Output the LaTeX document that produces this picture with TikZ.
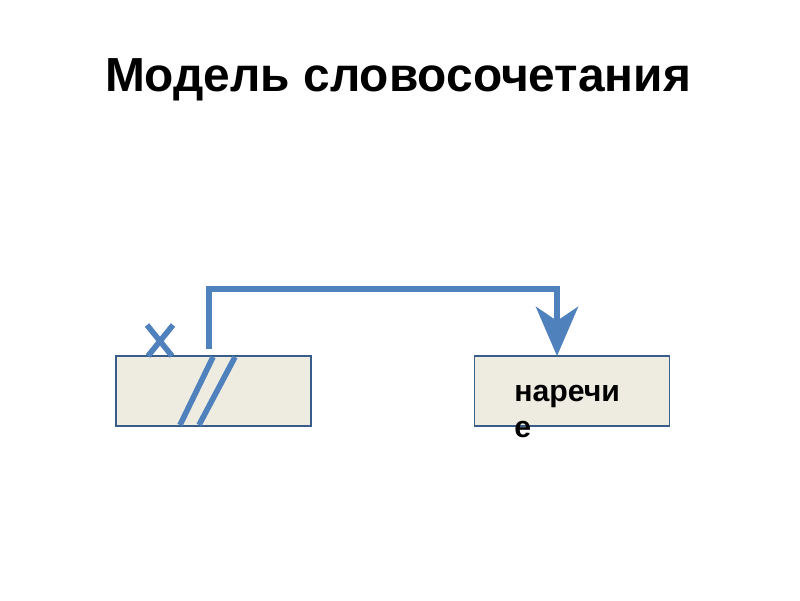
\documentclass[tikz,border=0pt]{standalone}
\usepackage{fontspec}
\setmainfont{Liberation Sans}
\usetikzlibrary{arrows.meta}
\definecolor{boxfill}{HTML}{EEECE1}
\definecolor{boxline}{HTML}{385D8A}
\definecolor{linkblue}{HTML}{4F81BD}
\tikzset{
  wordbox/.style={draw=boxline, line width=1pt, fill=boxfill, minimum width=4.875cm, minimum height=1.75cm, inner sep=0pt},
  strokemark/.style={draw=linkblue, line width=4pt}
}
\begin{document}
\begin{tikzpicture}[x=0.025cm, y=-0.025cm]
\useasboundingbox (0,0) rectangle (800,600);
\node[font=\fontsize{34}{40}\selectfont\bfseries, anchor=base] (title) at (398,91) {Модель словосочетания};
% words
\node[wordbox] (main) at (213.5,391) {};
\node[wordbox] (adv) at (572,391) {};
\node[font=\fontsize{21.5}{25.5}\selectfont\bfseries, anchor=base west, align=left, inner sep=0pt] (advtext) at (514,437) {наречи\\е};
% main word: x above, two slashes
\draw[strokemark] (147,325) -- (172,356);
\draw[strokemark] (173,325) -- (148,356);
\draw[strokemark] (213,357) -- (180,425);
\draw[strokemark] (235,357) -- (199,425);
% link
\coordinate (from) at (209,349);
\coordinate (bend) at (557,289);
\coordinate (to) at (557,356);
\draw[linkblue, line width=4pt, -{Stealth[length=35, width=30, inset=10]}] (from) |- (bend) -- (to);
\end{tikzpicture}
\end{document}
